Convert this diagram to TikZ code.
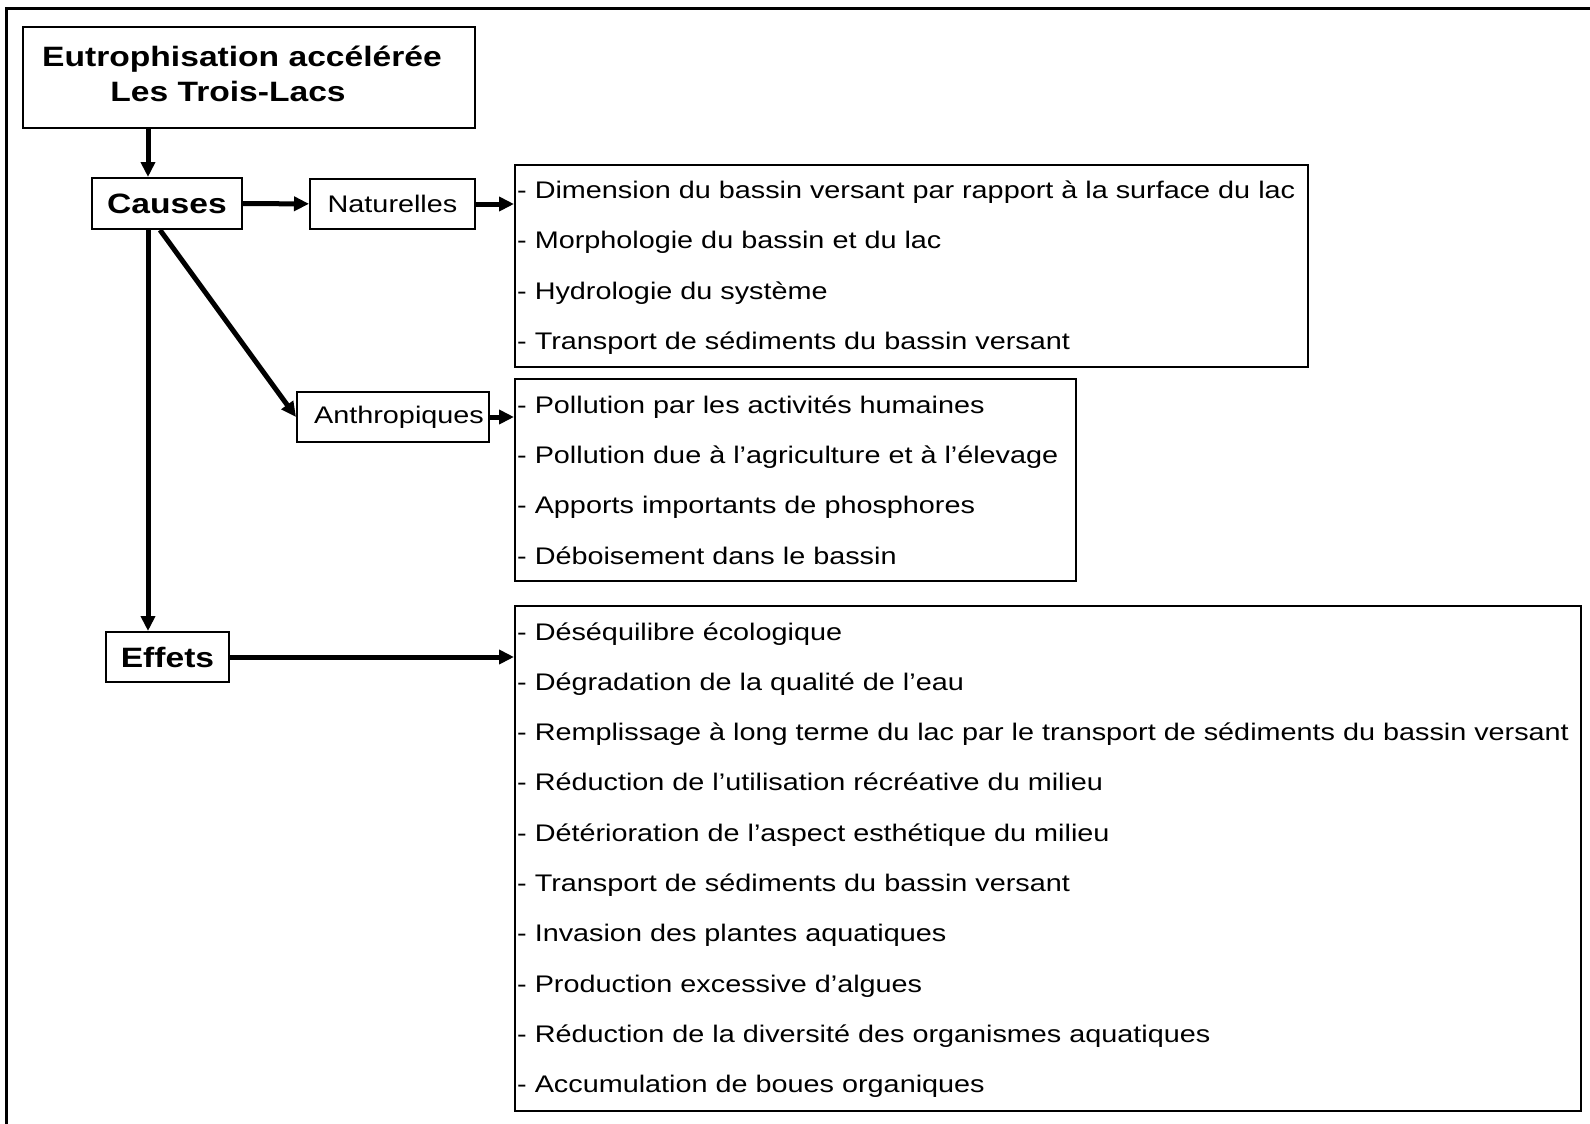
\documentclass[tikz,border=0pt]{standalone}
\usepackage{fontspec}
\setmainfont{Liberation Sans}[FakeStretch=1.2]
\usetikzlibrary{arrows.meta}

\begin{document}
\begin{tikzpicture}[x=1pt, y=-1pt,
        box/.style={draw, line width=2pt, inner sep=0pt},
        big/.style={font=\fontsize{28}{35}\selectfont\bfseries},
        small/.style={font=\fontsize{24}{30}\selectfont},
        arr/.style={line width=5pt, -{Triangle[length=15pt,width=14pt]}},
        item/.style={small, anchor=base west, inner sep=0pt}]
        \useasboundingbox (0,0) rectangle (1590,1124);
        \clip (0,0) rectangle (1590,1124);

        % Frame
        \draw[line width=3pt] (6,9) rectangle (1620,1150);

        % Boxes
        \node[box, minimum width=452, minimum height=101,
            label={[big, align=center, xshift=-7pt, yshift=4pt]center:{Eutrophisation accélérée\\Les Trois-Lacs\hspace*{28pt}}}] (title) at (249,77.5) {};
        \node[box, big, minimum width=150, minimum height=51] (causes) at (167,203.5) {Causes};
        \node[box, small, minimum width=165, minimum height=50] (natur) at (392.5,204) {Naturelles};
        \node[box, small, minimum width=192, minimum height=50] (anthro) at (393,417) {\hspace*{12pt}Anthropiques};
        \node[box, big, minimum width=123, minimum height=50] (effets) at (167.5,657) {Effets};
        \node[box, minimum width=793, minimum height=202] (listnat) at (911.5,266) {};
        \node[box, minimum width=561, minimum height=202] (listanth) at (795.5,480) {};
        \node[box, minimum width=1066, minimum height=505] (listeff) at (1048,858.5) {};

        % Items
        \foreach \txt [count=\i from 0] in {Dimension du bassin versant par rapport à la surface du lac,
            Morphologie du bassin et du lac, Hydrologie du système,
            Transport de sédiments du bassin versant}
            \node[item] at (517,{198+50.6*\i}) {- \txt};
        \foreach \txt [count=\i from 0] in {Pollution par les activités humaines,
            Pollution due à l’agriculture et à l’élevage,
            Apports importants de phosphores, Déboisement dans le bassin}
            \node[item] at (517,{413+50.4*\i}) {- \txt};
        \foreach \txt [count=\i from 0] in {Déséquilibre écologique,
            Dégradation de la qualité de l’eau,
            Remplissage à long terme du lac par le transport de sédiments du bassin versant,
            Réduction de l’utilisation récréative du milieu,
            Détérioration de l’aspect esthétique du milieu,
            Transport de sédiments du bassin versant,
            Invasion des plantes aquatiques, Production excessive d’algues,
            Réduction de la diversité des organismes aquatiques,
            Accumulation de boues organiques}
            \node[item] at (517,{640+50.3*\i}) {- \txt};

        % Arrows
        \coordinate (spine) at (148,0);
        \draw[arr] (title.south -| spine) -- (causes.north -| spine);
        \draw[arr] (causes.south -| spine) -- (effets.north -| spine);
        \draw[arr] (causes) -- (natur);
        \draw[arr] (natur.east) -- (natur.east -| listnat.west);
        \draw[arr] ([xshift=-7pt]causes.south) -- (anthro.west);
        \draw[arr] (anthro.east) -- (anthro.east -| listanth.west);
        \draw[arr] (effets.east) -- (effets.east -| listeff.west);

    \end{tikzpicture}
\end{document}
